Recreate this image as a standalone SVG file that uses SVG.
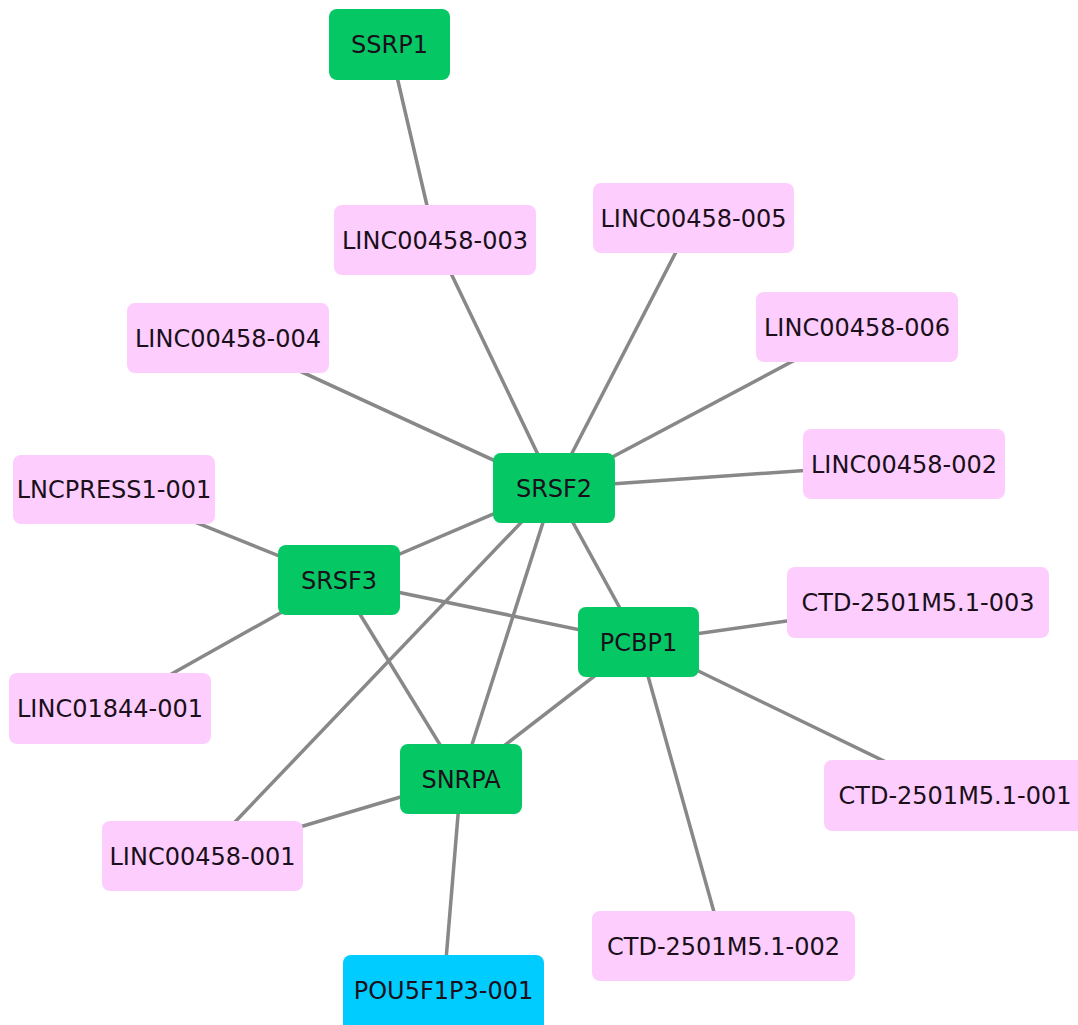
<svg xmlns="http://www.w3.org/2000/svg" width="1078" height="1025" viewBox="0 0 1078 1025">
  <style>
    .edge { stroke: #888888; stroke-width: 3.5; fill: none; }
    .node rect { rx: 8; ry: 8; }
    .prot rect { fill: #05C865; }
    .lnc rect { fill: #FDCDFD; }
    .pseudo rect { fill: #00CCFF; }
    .node text { font-family: "DejaVu Sans", "Liberation Sans", sans-serif; font-size: 24px; fill: #1a0f1a; text-anchor: middle; }
  </style>
  <rect width="1078" height="1025" fill="#ffffff"/>

  <!-- interactions, center to center -->
  <g id="edges">
    <line class="edge" x1="389.5" y1="44.5" x2="435" y2="240"/>
    <line class="edge" x1="435" y1="240" x2="554" y2="488"/>
    <line class="edge" x1="693.5" y1="218" x2="554" y2="488"/>
    <line class="edge" x1="228" y1="338" x2="554" y2="488"/>
    <line class="edge" x1="857" y1="327" x2="554" y2="488"/>
    <line class="edge" x1="904" y1="463.5" x2="554" y2="488"/>
    <line class="edge" x1="554" y1="488" x2="339" y2="580"/>
    <line class="edge" x1="554" y1="488" x2="638.5" y2="642"/>
    <line class="edge" x1="554" y1="488" x2="461" y2="779"/>
    <line class="edge" x1="554" y1="488" x2="202.5" y2="856"/>
    <line class="edge" x1="114" y1="489.5" x2="339" y2="580"/>
    <line class="edge" x1="339" y1="580" x2="110" y2="708.5"/>
    <line class="edge" x1="339" y1="580" x2="638.5" y2="642"/>
    <line class="edge" x1="339" y1="580" x2="461" y2="779"/>
    <line class="edge" x1="638.5" y1="642" x2="461" y2="779"/>
    <line class="edge" x1="638.5" y1="642" x2="918" y2="602.5"/>
    <line class="edge" x1="638.5" y1="642" x2="955" y2="795.5"/>
    <line class="edge" x1="638.5" y1="642" x2="723.5" y2="946"/>
    <line class="edge" x1="461" y1="779" x2="202.5" y2="856"/>
    <line class="edge" x1="461" y1="779" x2="443.5" y2="990"/>
  </g>

  <g id="SSRP1" class="node prot"><rect x="329" y="9" width="121" height="71"/><text x="389.5" y="53">SSRP1</text></g>
  <g id="LINC00458-003" class="node lnc"><rect x="334" y="205" width="202" height="70"/><text x="435" y="248.5">LINC00458-003</text></g>
  <g id="LINC00458-005" class="node lnc"><rect x="593" y="183" width="201" height="70"/><text x="693.5" y="226.5">LINC00458-005</text></g>
  <g id="LINC00458-004" class="node lnc"><rect x="127" y="303" width="202" height="70"/><text x="228" y="346.5">LINC00458-004</text></g>
  <g id="LINC00458-006" class="node lnc"><rect x="756" y="292" width="202" height="70"/><text x="857" y="335.5">LINC00458-006</text></g>
  <g id="LINC00458-002" class="node lnc"><rect x="803" y="429" width="202" height="70"/><text x="904" y="472.5">LINC00458-002</text></g>
  <g id="SRSF2" class="node prot"><rect x="493" y="453" width="122" height="70"/><text x="554" y="496.5">SRSF2</text></g>
  <g id="LNCPRESS1-001" class="node lnc"><rect x="13" y="455" width="202" height="69"/><text x="114" y="498">LNCPRESS1-001</text></g>
  <g id="SRSF3" class="node prot"><rect x="278" y="545" width="122" height="70"/><text x="339" y="588.5">SRSF3</text></g>
  <g id="PCBP1" class="node prot"><rect x="578" y="607" width="121" height="70"/><text x="638.5" y="650.5">PCBP1</text></g>
  <g id="CTD-2501M5.1-003" class="node lnc"><rect x="787" y="567" width="262" height="71"/><text x="918" y="611">CTD-2501M5.1-003</text></g>
  <g id="LINC01844-001" class="node lnc"><rect x="9" y="673" width="202" height="71"/><text x="110" y="717">LINC01844-001</text></g>
  <g id="SNRPA" class="node prot"><rect x="400" y="744" width="122" height="70"/><text x="461" y="787.5">SNRPA</text></g>
  <g id="CTD-2501M5.1-001" class="node lnc"><rect x="824" y="760" width="262" height="71"/><text x="955" y="804">CTD-2501M5.1-001</text></g>
  <g id="LINC00458-001" class="node lnc"><rect x="102" y="821" width="201" height="70"/><text x="202.5" y="864.5">LINC00458-001</text></g>
  <g id="CTD-2501M5.1-002" class="node lnc"><rect x="592" y="911" width="263" height="70"/><text x="723.5" y="954.5">CTD-2501M5.1-002</text></g>
  <g id="POU5F1P3-001" class="node pseudo"><rect x="343" y="955" width="201" height="78"/><text x="443.5" y="998.5">POU5F1P3-001</text></g>
</svg>
